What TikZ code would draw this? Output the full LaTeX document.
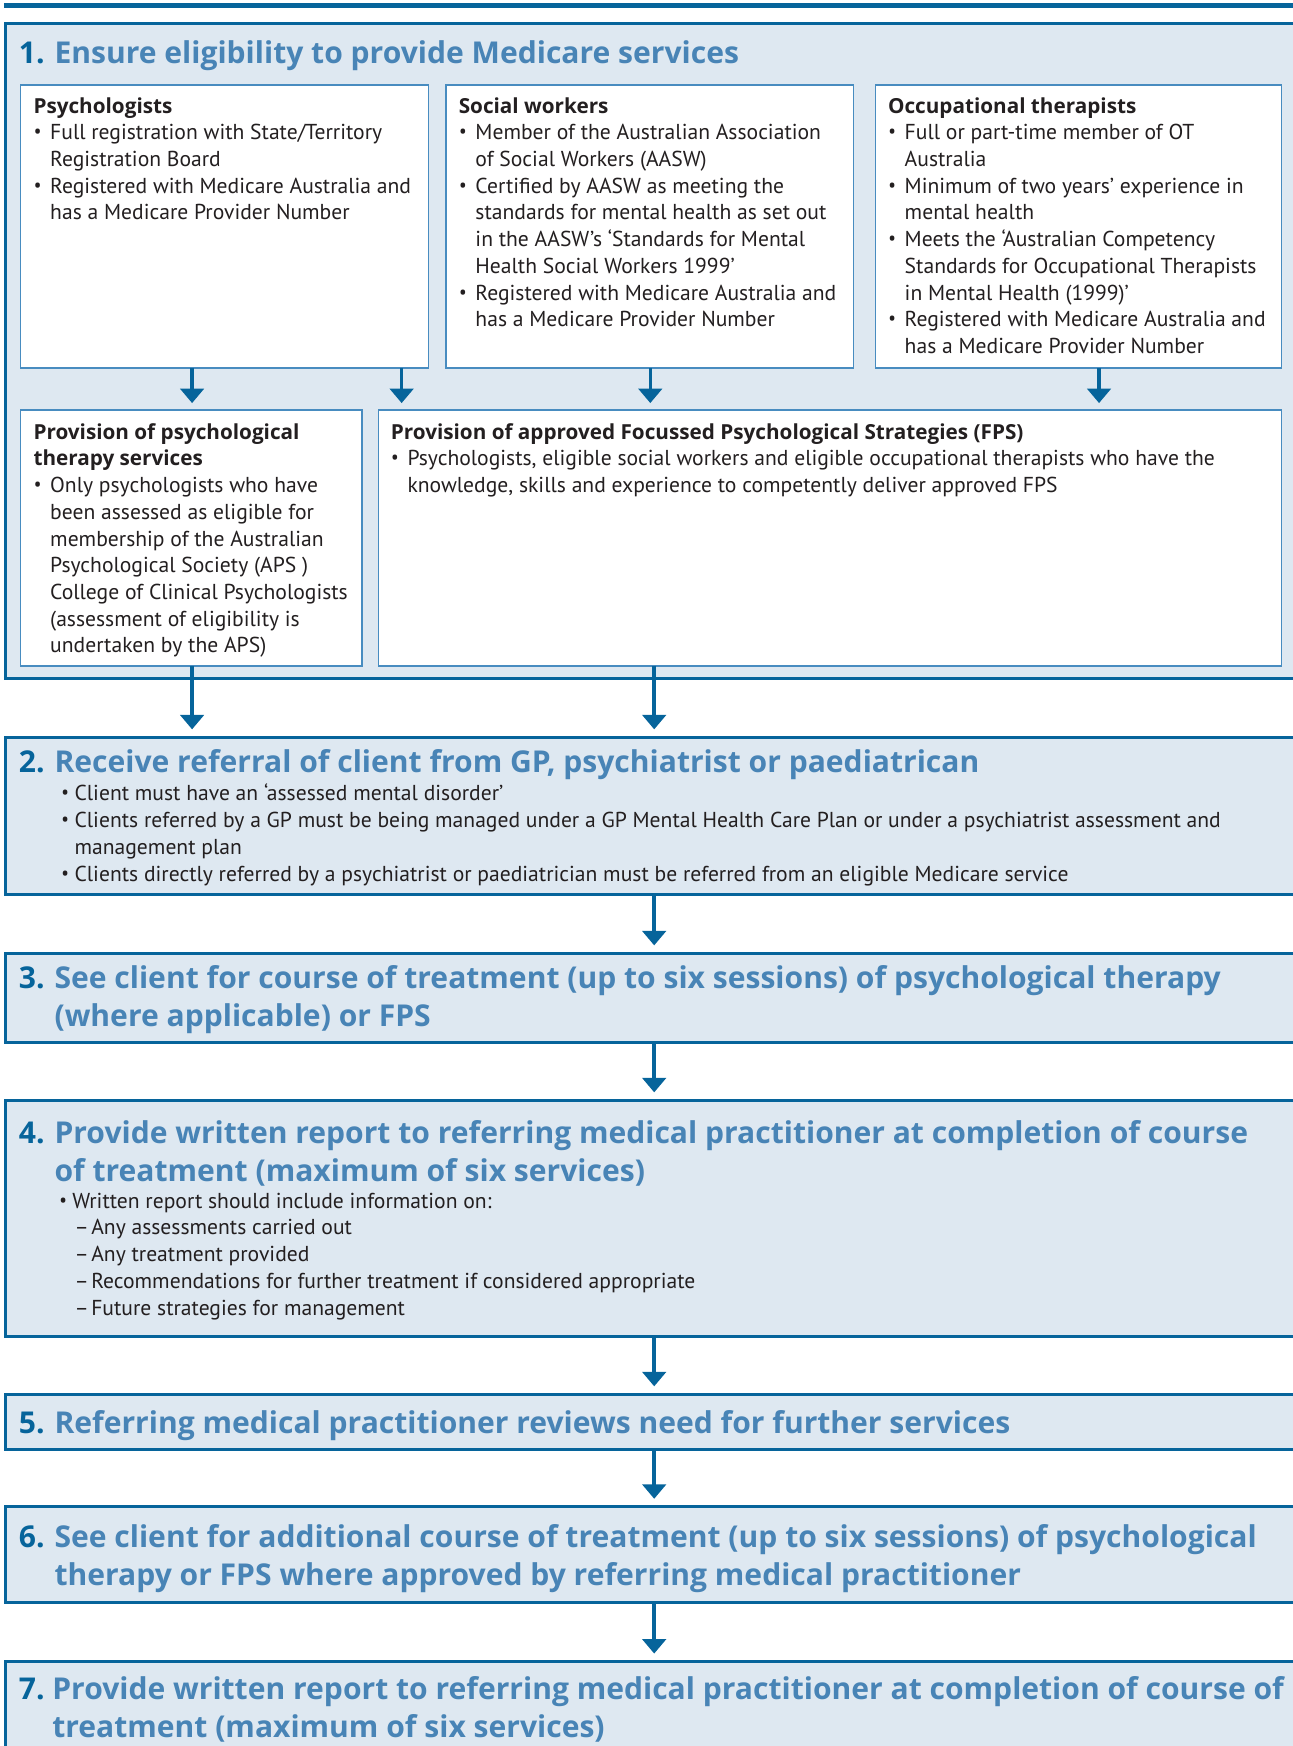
\documentclass[tikz,border=0pt]{standalone}
\usepackage{fontspec}
\setmainfont{PT Sans}
\newfontfamily\ofont{Open Sans}
\usetikzlibrary{arrows.meta}
\definecolor{dblue}{RGB}{6,100,155}
\definecolor{tblue}{RGB}{72,132,182}
\definecolor{secfill}{RGB}{222,232,241}
\definecolor{ibord}{RGB}{72,140,192}
\definecolor{txt}{RGB}{35,31,32}
\newcommand{\bodyfnt}{\fontsize{19.4}{24}\selectfont}
\newcommand{\titlefnt}{\fontsize{27}{34}\selectfont\ofont\bfseries}
\newcommand{\hd}[1]{{\fontsize{18.6}{24}\selectfont\ofont\bfseries #1}}
\newcommand{\bul}{{\ofont\textbullet}}
\newcommand{\bit}[1]{\par\hangindent=15pt\hangafter=1\noindent\makebox[15pt][l]{\bul}#1}
\newcommand{\bitw}[2]{\par\hangindent=#1\hangafter=1\noindent\makebox[#1][l]{\bul}#2}
\newcommand{\dit}[1]{\par\noindent\hspace*{14pt}\makebox[15pt][l]{–}#1}
\newcommand{\blk}[2]{\parbox[t]{#1}{\bodyfnt\raggedright\parindent=0pt\parskip=0pt\noindent #2}}
\newcommand{\ttl}[3][32pt]{\parbox[t]{1200pt}{\titlefnt\raggedright\parindent=0pt\hangindent=#1\hangafter=1\noindent\makebox[#1][l]{\color{dblue}#2}\color{tblue}#3}}
\begin{document}
\begin{tikzpicture}[x=1pt,y=-1pt,
  sec/.style={draw=dblue,line width=2.6pt,fill=secfill,anchor=north west,inner sep=0,outer sep=0,minimum width=1250pt},
  ibox/.style={draw=ibord,line width=1.3pt,fill=white,anchor=north west,inner sep=0,outer sep=0},
  txtn/.style={anchor=base west,inner sep=0,outer sep=0,text=txt},
  arr/.style={draw=dblue,line width=3.2pt,-{Triangle[width=21pt,length=13pt]}}]
\useasboundingbox (0,0) rectangle (1161,1568);
\clip (0,0) rectangle (1161,1568);
% top rule
\coordinate (barL) at (3.5,4.8);
\coordinate (barR) at (1170,4.8);
\draw[dblue,line width=4.8pt] (barL) -- (barR);
% sections
\node[sec,minimum height=588pt] (s1) at (5,21) {};
\node[sec,minimum height=141pt] (s2) at (5,662) {};
\node[sec,minimum height=80pt] (s3) at (5,856) {};
\node[sec,minimum height=212pt] (s4) at (5,988) {};
\node[sec,minimum height=50pt] (s5) at (5,1252) {};
\node[sec,minimum height=86pt] (s6) at (5,1353) {};
\node[sec,minimum height=120pt] (s7) at (5,1492) {};
% inner boxes
\node[ibox,minimum width=366pt,minimum height=254pt] (psy) at (18.6,76.3) {};
\node[ibox,minimum width=366pt,minimum height=254pt] (sw) at (400.5,76.3) {};
\node[ibox,minimum width=365pt,minimum height=254pt] (ot) at (786,76.3) {};
\node[ibox,minimum width=306.5pt,minimum height=230pt] (pts) at (18.6,368) {};
\node[ibox,minimum width=811.3pt,minimum height=230pt] (fps) at (339.7,368) {};
% titles
\node[txtn] (t1) at (17,57) {\ttl{1.}{Ensure eligibility to provide Medicare services}};
\node[txtn] (t2) at (17,694) {\ttl{2.}{Receive referral of client from GP, psychiatrist or paediatrican}};
\node[txtn] (t3) at (17,888) {\ttl{3.}{See client for course of treatment (up to six sessions) of psychological therapy\newline (where applicable) or FPS}};
\node[txtn] (t4) at (17,1026.6) {\ttl{4.}{Provide written report to referring medical practitioner at completion of course\newline of treatment (maximum of six services)}};
\node[txtn] (t5) at (17,1287) {\ttl{5.}{Referring medical practitioner reviews need for further services}};
\node[txtn] (t6) at (17,1390) {\ttl{6.}{See client for additional course of treatment (up to six sessions) of psychological\newline therapy or FPS where approved by referring medical practitioner}};
\node[txtn] (t7) at (17,1526.6) {\ttl[30pt]{7.}{Provide written report to referring medical practitioner at completion of course of\newline treatment (maximum of six services)}};
% box texts
\node[txtn] (psyT) at (30.1,101.5) {\blk{360pt}{\hd{Psychologists}
\bit{Full registration with State/Territory\newline Registration Board}
\bit{Registered with Medicare Australia and\newline has a Medicare Provider Number}}};
\node[txtn] (swT) at (412,101.5) {\blk{360pt}{\hd{Social workers}
\bit{Member of the Australian Association\newline of Social Workers (AASW)}
\bit{Certified by AASW as meeting the\newline standards for mental health as set out\newline in the AASW’s ‘Standards for Mental\newline Health Social Workers 1999’}
\bit{Registered with Medicare Australia and\newline has a Medicare Provider Number}}};
\node[txtn] (otT) at (797.5,101.5) {\blk{360pt}{\hd{Occupational therapists}
\bit{Full or part-time member of OT\newline Australia}
\bit{Minimum of two years’ experience in\newline mental health}
\bit{Meets the ‘Australian Competency\newline Standards for Occupational Therapists\newline in Mental Health (1999)’}
\bit{Registered with Medicare Australia and\newline has a Medicare Provider Number}}};
\node[txtn] (ptsT) at (30.1,394.4) {\blk{300pt}{\hd{Provision of psychological\newline therapy services}
\bit{Only psychologists who have\newline been assessed as eligible for\newline membership of the Australian\newline Psychological Society (APS )\newline College of Clinical Psychologists\newline (assessment of eligibility is\newline undertaken by the APS)}}};
\node[txtn] (fpsT) at (351,394.4) {\blk{800pt}{\hd{Provision of approved Focussed Psychological Strategies (FPS)}
\bit{Psychologists, eligible social workers and eligible occupational therapists who have the\newline knowledge, skills and experience to competently deliver approved FPS}}};
\node[txtn] (s2T) at (55,719.3) {\blk{1100pt}{\bitw{12pt}{Client must have an ‘assessed mental disorder’}
\bitw{12pt}{Clients referred by a GP must be being managed under a GP Mental Health Care Plan or under a psychiatrist assessment and\newline management plan}
\bitw{12pt}{Clients directly referred by a psychiatrist or paediatrician must be referred from an eligible Medicare service}}};
\node[txtn] (s4T) at (53,1085) {\blk{1100pt}{\bitw{12pt}{Written report should include information on:}
\dit{Any assessments carried out}
\dit{Any treatment provided}
\dit{Recommendations for further treatment if considered appropriate}
\dit{Future strategies for management}}};
% arrow x positions
\coordinate (xa) at (172.5,0);
\coordinate (xb) at (360.7,0);
\coordinate (xc) at (584,0);
\coordinate (xd) at (987,0);
\coordinate (xm) at (587.5,0);
\draw[arr,shorten >=6pt] (psy.south -| xa) -- (pts.north -| xa);
\draw[arr,shorten >=6pt] (psy.south -| xb) -- (fps.north -| xb);
\draw[arr,shorten >=6pt] (sw.south -| xc) -- (fps.north -| xc);
\draw[arr,shorten >=6pt] (ot.south -| xd) -- (fps.north -| xd);
\draw[arr,shorten >=7pt] (pts.south -| xa) -- (s2.north -| xa);
\draw[arr,shorten >=7pt] (fps.south -| xm) -- (s2.north -| xm);
\draw[arr,shorten >=7pt] (s2.south -| xm) -- (s3.north -| xm);
\draw[arr,shorten >=7pt] (s3.south -| xm) -- (s4.north -| xm);
\draw[arr,shorten >=7pt] (s4.south -| xm) -- (s5.north -| xm);
\draw[arr,shorten >=7pt] (s5.south -| xm) -- (s6.north -| xm);
\draw[arr,shorten >=7pt] (s6.south -| xm) -- (s7.north -| xm);
\end{tikzpicture}
\end{document}
